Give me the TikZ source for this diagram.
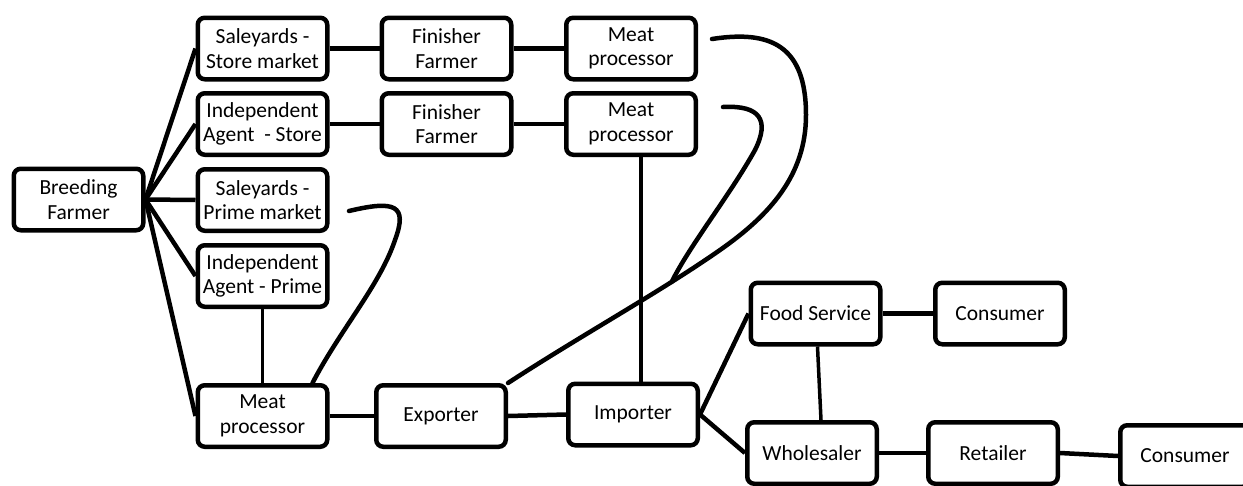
\documentclass[tikz,border=0pt]{standalone}
\usepackage{fontspec}
\setmainfont{Carlito}
\usetikzlibrary{calc}
\begin{document}
\begin{tikzpicture}[x=1pt,y=-1pt,
  stage/.style={draw, line width=4.5pt, rounded corners=7pt,
    minimum width=129.5pt, minimum height=61.5pt, inner sep=2pt,
    align=center, font=\fontsize{21.5}{24.5}\selectfont},
  link/.style={line width=4.5pt},
  thinlink/.style={line width=3.5pt},
  loopline/.style={line width=4.5pt, line cap=round}]
\fill[white] (0,0) rectangle (1243,485);
\useasboundingbox (0,0) rectangle (1243,485);

% supply chain stages
\node[stage] (bf)  at (78.5,199.5) {Breeding\\Farmer};
\node[stage] (s1)  at (262.5,48.5) {Saleyards -\\Store market};
\node[stage] (a1)  at (262.5,124)  {Independent\\Agent~ - Store};
\node[stage] (s2)  at (262.5,200)  {Saleyards -\\Prime market};
\node[stage] (a2)  at (262.5,276)  {Independent\\Agent - Prime};
\node[stage] (mp0) at (262.5,416)  {Meat\\processor};
\node[stage] (f1)  at (446.5,48.5) {Finisher\\Farmer};
\node[stage] (f2)  at (446.5,124)  {Finisher\\Farmer};
\node[stage] (m1)  at (631,48.5)   {Meat\\processor};
\node[stage] (m2)  at (631,124)    {Meat\\processor};
\node[stage] (ex)  at (441,416)    {Exporter};
\node[stage] (im)  at (633,414.5)  {Importer};
\node[stage] (fs)  at (815.5,313.5){Food Service};
\node[stage] (co1) at (1000,313.5) {Consumer};
\node[stage] (wh)  at (812,453)    {Wholesaler};
\node[stage] (re)  at (993,453)    {Retailer};
\node[stage] (co2) at (1185,456)   {Consumer};

% breeding farmer fan-out
\foreach \t in {s1,a1,s2,a2,mp0}
  \draw[link] (bf.east) -- (\t.west);

% store cattle chains
\draw[link] (s1.east) -- (f1.west);
\draw[link] (f1.east) -- (m1.west);
\draw[link] (a1.east) -- (f2.west);
\draw[link] (f2.east) -- (m2.west);

% processing and export
\draw[thinlink] (a2.south) -- (mp0.north -| a2.south);
\draw[link] (mp0.east) -- (ex.west);
\draw[link] (ex.east) -- (im.west);
\draw[thinlink] ([xshift=10pt]m2.south) -- ([xshift=10pt]m2.south |- im.north);

% distribution
\draw[link] (im.east) -- (fs.west);
\draw[link] (im.east) -- (wh.west);
\draw[link] (fs.east) -- (co1.west);
\draw[thinlink] ([xshift=2pt]fs.south) -- ([xshift=9pt]wh.north);
\draw[link] (wh.east) -- (re.west);
\draw[link] (re.east) -- (co2.west);

% looping links to the processors
\coordinate (s2end) at (349,211);
\coordinate (m1end) at (712,39);
\coordinate (m2end) at (723,107);
\draw[loopline] (s2end) .. controls (395,200) and (408,205) .. (395,240)
  .. controls (380,285) and (340,330) .. ([xshift=50pt]mp0.north);
\draw[loopline] (m1end) .. controls (770,30) and (806,45) .. (806,115)
  .. controls (806,175) and (770,215) .. (720,250)
  .. controls (660,292) and (580,336) .. coordinate[pos=0.25] (merge) (ex.north east);
\draw[loopline] (m2end) .. controls (760,105) and (770,120) .. (755,150)
  .. controls (730,195) and (690,245) .. (merge);
\end{tikzpicture}
\end{document}
